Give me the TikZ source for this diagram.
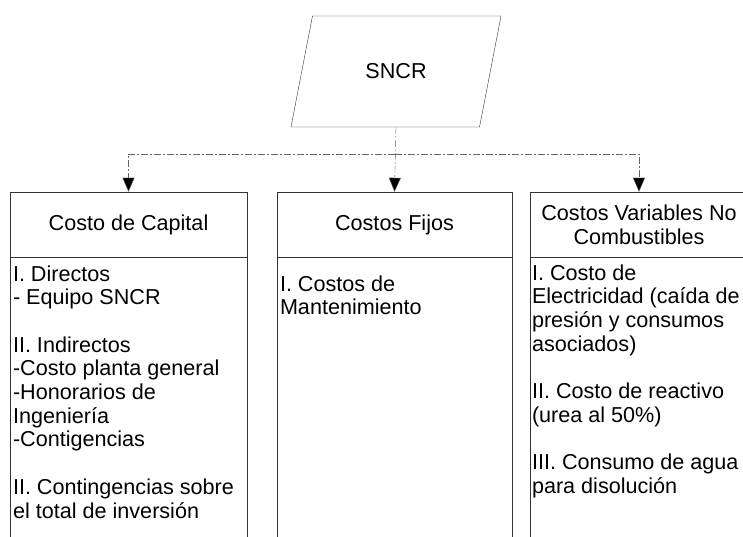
\documentclass[tikz,border=0pt]{standalone}
\usepackage{fontspec}
\setmainfont{Liberation Sans}
\usetikzlibrary{shapes.geometric,arrows.meta,positioning}
\tikzset{
  hdr/.style={draw=black!80,thin,align=center,minimum height=65pt,inner sep=0pt},
  body/.style={draw=black!80,thin,anchor=north,minimum height=320pt},
  txt/.style={anchor=north west,align=left,inner sep=0pt},
  io/.style={draw=black!80,thin,trapezium,trapezium left angle=62.8,trapezium right angle=117.2,trapezium stretches=true,minimum width=210pt,minimum height=111pt,inner sep=0pt},
  link/.style={draw=black!60,thin,dash pattern=on 7pt off 2pt on 2pt off 2pt,-{Triangle[length=14pt,width=12pt,fill=black]}}
}
\begin{document}
\begin{tikzpicture}[x=1pt,y=-1pt,font=\fontsize{21.6}{23.7}\selectfont]
\useasboundingbox (0,0) rectangle (743,537);
\clip (0,0) rectangle (743,537);
\node[io] (sncr) at (396,71.5) {SNCR};
% column headers
\node[hdr,minimum width=237pt] (capital) at (128.5,224.5) {Costo de Capital};
\node[hdr,minimum width=235pt] (fijos) at (394.5,224.5) {Costos Fijos};
\node[hdr,minimum width=218pt] (variables) at (639,224.5) {Costos Variables No\\Combustibles};
% column bodies
\node[body,minimum width=237pt] (capitalbody) at (capital.south) {};
\node[body,minimum width=235pt] (fijosbody) at (fijos.south) {};
\node[body,minimum width=218pt] (variablesbody) at (variables.south) {};
\node[txt,below right=8pt and 3pt of capital.south west] (capitaltxt) {I. Directos\\- Equipo SNCR\\[23.7pt]II. Indirectos\\-Costo planta general\\-Honorarios de\\Ingeniería\\-Contigencias\\[23.7pt]II. Contingencias sobre\\el total de inversión};
\node[txt,below right=18pt and 3pt of fijos.south west] (fijostxt) {I. Costos de\\Mantenimiento};
\node[txt,below right=7pt and 2pt of variables.south west] (variablestxt) {I. Costo de\\Electricidad (caída de\\presión y consumos\\asociados)\\[23.7pt]II. Costo de reactivo\\(urea al 50\%)\\[23.7pt]III. Consumo de agua\\para disolución};
% connectors
\coordinate (bus) at (395,154);
\draw[link] (sncr.south) -- (fijos.north);
\draw[link] (bus) -| (capital.north);
\draw[link] (bus) -| (variables.north);
\end{tikzpicture}
\end{document}
